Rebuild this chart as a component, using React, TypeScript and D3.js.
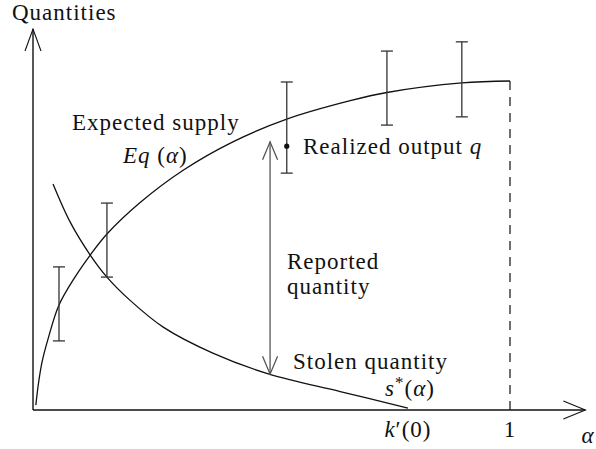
import React from "react";
import * as d3 from "d3";

// Expected supply Eq(alpha)
const expectedAlpha = [0.006, 0.011, 0.019, 0.031, 0.0545, 0.088, 0.12, 0.155, 0.224, 0.314, 0.419, 0.532, 0.665, 0.742, 0.899, 1];
const expectedSupply = [0.015, 0.076, 0.146, 0.213, 0.319, 0.404, 0.471, 0.535, 0.63, 0.728, 0.815, 0.884, 0.94, 0.965, 0.994, 1];
// Stolen quantity s*(alpha)
const stolenAlpha = [0.042, 0.078, 0.12, 0.155, 0.203, 0.273, 0.377, 0.495, 0.644, 0.786];
const stolenQuantity = [0.687, 0.571, 0.471, 0.404, 0.334, 0.252, 0.173, 0.109, 0.056, 0.006];
// Realized output ranges (error bars)
const barAlpha = [0.0545, 0.155, 0.532, 0.742, 0.899];
const barLow = [0.21, 0.404, 0.72, 0.866, 0.891];
const barHigh = [0.435, 0.629, 0.997, 1.091, 1.119];
const realizedPoint = [0.532, 0.802];
// Reported quantity double arrow
const reportedArrow = [0.497, 0.109, 0.815];
// Axis ticks
const tickValues = [0.786, 1];
const axisMax = [1.158, 1.158];

const W = 596;
const H = 449;
const FONT = "'Liberation Serif', Tinos, 'Times New Roman', 'DejaVu Serif', 'Noto Serif', serif";

export default function App() {
  const x = d3.scaleLinear().domain([0, 1]).range([33, 510]);
  const y = d3.scaleLinear().domain([0, 1]).range([410, 81]);

  const line = d3
    .line<[number, number]>()
    .x((d) => x(d[0]))
    .y((d) => y(d[1]))
    .curve(d3.curveCatmullRom.alpha(0.5));

  const eqPath = line(expectedAlpha.map((a, i) => [a, expectedSupply[i]]) as [number, number][]) || "";
  const sPath = line(stolenAlpha.map((a, i) => [a, stolenQuantity[i]]) as [number, number][]) || "";

  const x0 = x(0);
  const y0 = y(0);
  const xEnd = x(axisMax[0]);
  const yEnd = y(axisMax[1]);

  const ax = x(reportedArrow[0]);
  const ayB = y(reportedArrow[1]);
  const ayT = y(reportedArrow[2]);

  const T = (props: any) => (
    <text
      style={{ fontFamily: FONT, fontSize: 23, letterSpacing: 1 }}
      fill="#111"
      {...props}
    />
  );

  return (
    <svg
      width={W}
      height={H}
      style={{ position: "absolute", left: 0, top: 0, background: "#fff" }}
    >
      {/* axes */}
      <g stroke="#111" strokeWidth={1.4} fill="none">
        <line x1={x0} y1={y0} x2={x0} y2={yEnd} />
        <polyline points={`${x0 - 8},${yEnd + 22} ${x0},${yEnd} ${x0 + 8},${yEnd + 22}`} strokeWidth={1.1} />
        <line x1={x0} y1={y0} x2={xEnd} y2={y0} />
        <polyline points={`${xEnd - 22},${y0 - 9} ${xEnd},${y0} ${xEnd - 22},${y0 + 9}`} strokeWidth={1.1} />
      </g>

      {/* dashed line at alpha = 1 */}
      <line
        x1={x(1)}
        x2={x(1)}
        y1={y(expectedSupply[expectedSupply.length - 1])}
        y2={y0}
        stroke="#111"
        strokeWidth={1.2}
        strokeDasharray="9,7"
      />

      {/* curves */}
      <path d={eqPath} fill="none" stroke="#111" strokeWidth={1.3} />
      <path d={sPath} fill="none" stroke="#111" strokeWidth={1.3} />

      {/* error bars */}
      <g stroke="#333" strokeWidth={1.3}>
        {barAlpha.map((a, i) => (
          <g key={i}>
            <line x1={x(a)} x2={x(a)} y1={y(barLow[i])} y2={y(barHigh[i])} />
            <line x1={x(a) - 6} x2={x(a) + 6} y1={y(barLow[i])} y2={y(barLow[i])} />
            <line x1={x(a) - 6} x2={x(a) + 6} y1={y(barHigh[i])} y2={y(barHigh[i])} />
          </g>
        ))}
      </g>
      <circle cx={x(realizedPoint[0])} cy={y(realizedPoint[1])} r={2.6} fill="#111" />

      {/* reported quantity double arrow */}
      <g stroke="#555" strokeWidth={1.3} fill="none">
        <line x1={ax} x2={ax} y1={ayT} y2={ayB} />
        <polyline points={`${ax - 7.5},${ayT + 18} ${ax},${ayT} ${ax + 7.5},${ayT + 18}`} />
        <polyline points={`${ax - 7.5},${ayB - 18} ${ax},${ayB} ${ax + 7.5},${ayB - 18}`} />
      </g>

      {/* labels */}
      <T x={12} y={20}>Quantities</T>
      <T x={72} y={130}>Expected supply</T>
      <T x={123} y={163}>
        <tspan fontStyle="italic">Eq</tspan>
        <tspan> (</tspan>
        <tspan fontStyle="italic">α</tspan>
        <tspan>)</tspan>
      </T>
      <T x={303} y={154}>
        <tspan>Realized output </tspan>
        <tspan fontStyle="italic">q</tspan>
      </T>
      <T x={287} y={269}>Reported</T>
      <T x={287} y={294}>quantity</T>
      <T x={293} y={369}>Stolen quantity</T>
      <T x={385} y={396}>
        <tspan fontStyle="italic">s</tspan>
        <tspan dy={-8} fontSize={17}>*</tspan>
        <tspan dy={8}>(</tspan>
        <tspan fontStyle="italic">α</tspan>
        <tspan>)</tspan>
      </T>

      {/* tick labels */}
      <T x={x(tickValues[0])} y={437} textAnchor="middle">
        <tspan fontStyle="italic">k</tspan>
        <tspan>′(0)</tspan>
      </T>
      <T x={x(tickValues[1])} y={437} textAnchor="middle">1</T>
      <T x={588} y={443} textAnchor="middle" fontStyle="italic">α</T>
    </svg>
  );
}
